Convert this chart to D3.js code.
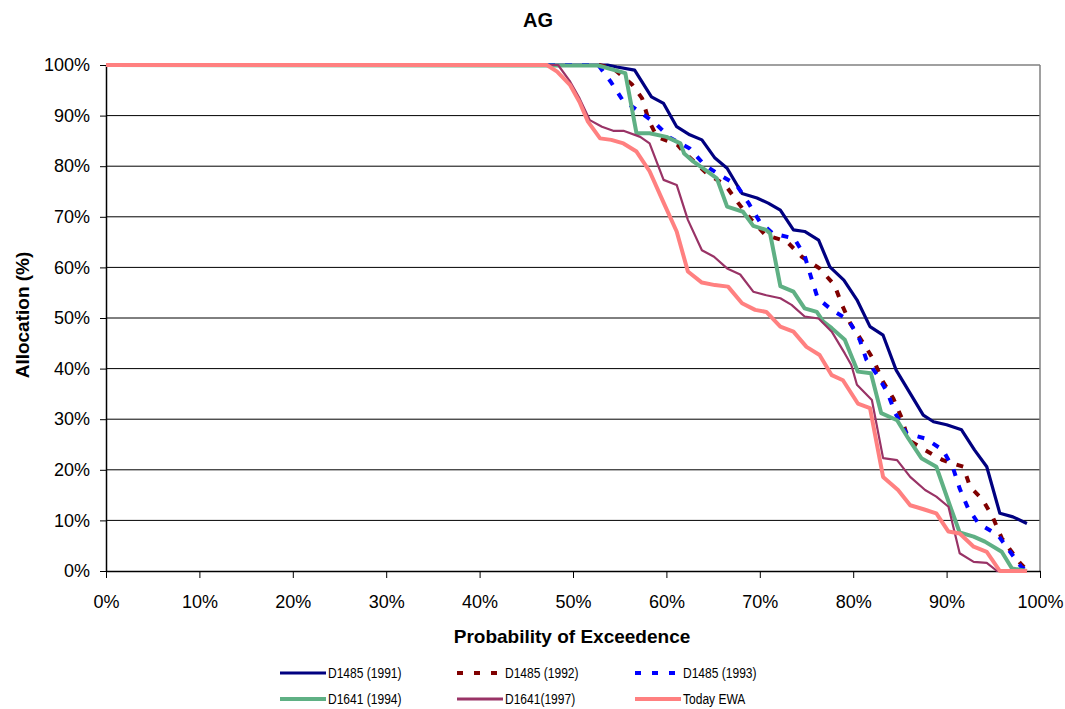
<!DOCTYPE html>
<html>
<head>
<meta charset="utf-8">
<script src="https://cdn.jsdelivr.net/npm/d3@7"></script>
<style>
  html, body { margin: 0; padding: 0; background: #fff; }
  svg { display: block; font-family: "Liberation Sans", Arial, sans-serif; }
</style>
</head>
<body>
<svg id="chart" width="1065" height="709"></svg>
<script>
// ---- data ----
const chartTitle = "AG";
const xTitle = "Probability of Exceedence";
const yTitle = "Allocation (%)";
const xTicks = [0, 10, 20, 30, 40, 50, 60, 70, 80, 90, 100];
const yTicks = [0, 10, 20, 30, 40, 50, 60, 70, 80, 90, 100];
const seriesNames = ["D1485 (1991)", "D1485 (1992)", "D1485 (1993)", "D1641 (1994)", "D1641(1997)", "Today EWA"];

const d1991Prob  = [0, 53.7, 54.7, 56.6, 58.4, 59.7, 61.1, 62.5, 63.8, 65.2, 66.5, 68.1, 69.7, 70.9, 72.2, 73.6, 74.8, 76.3, 77.5, 79.0, 80.4, 81.8, 83.2, 84.6, 86.1, 87.5, 88.6, 90.0, 91.6, 93.0, 94.3, 95.7, 97.1, 98.6];
const d1991Alloc = [100, 100, 99.6, 99.0, 93.7, 92.4, 87.8, 86.2, 85.2, 81.6, 79.6, 74.6, 73.7, 72.7, 71.3, 67.4, 67.1, 65.4, 60.1, 57.5, 53.6, 48.3, 46.6, 39.7, 35.1, 30.8, 29.5, 28.9, 27.9, 23.9, 20.6, 11.4, 10.7, 9.4];

const d1992Prob  = [0, 52.8, 54.3, 56.3, 57.4, 58.1, 59.0, 61.2, 61.8, 64.3, 66.3, 67.7, 69.1, 70.6, 72.9, 74.5, 76.4, 78.0, 78.8, 79.7, 81.1, 82.2, 83.1, 84.3, 85.2, 85.9, 87.7, 89.6, 91.8, 92.5, 93.9, 95.0, 95.9, 96.8, 97.9, 98.6];
const d1992Alloc = [100, 100, 99.3, 96.2, 93.4, 89.1, 85.8, 84.2, 82.9, 78.6, 76.3, 72.7, 69.4, 66.4, 65.1, 62.1, 59.8, 56.5, 52.6, 48.9, 45.0, 41.7, 37.7, 34.1, 30.2, 25.9, 23.9, 21.9, 20.6, 16.7, 14.0, 10.4, 6.5, 4.2, 1.5, 0.2];

const d1993Prob  = [0, 52.7, 54.0, 55.3, 57.1, 58.8, 60.4, 62.5, 64.1, 65.7, 67.5, 68.8, 70.0, 71.4, 73.7, 74.8, 75.5, 76.2, 77.7, 79.5, 80.7, 81.4, 82.7, 83.7, 84.5, 85.7, 87.7, 89.6, 90.7, 91.4, 92.3, 93.4, 95.5, 96.8, 98.0, 98.6];
const d1993Alloc = [100, 100, 96.8, 93.1, 90.8, 88.5, 85.6, 83.5, 80.2, 78.3, 76.3, 72.7, 69.0, 66.7, 65.7, 62.3, 58.0, 53.9, 51.6, 49.6, 45.7, 41.8, 38.4, 35.1, 31.2, 27.2, 26.2, 23.9, 20.3, 16.3, 12.4, 9.4, 7.1, 3.8, 0.8, 0.2];

const d1994Prob  = [0, 52.7, 55.6, 56.8, 58.2, 60.0, 61.5, 61.9, 62.9, 63.9, 65.4, 66.5, 68.2, 69.3, 70.7, 71.1, 72.2, 73.6, 74.8, 76.1, 76.8, 77.7, 79.1, 80.5, 81.9, 83.0, 84.7, 85.9, 87.3, 88.9, 90.4, 91.4, 92.9, 94.1, 95.9, 97.0, 98.6];
const d1994Alloc = [100, 99.9, 98.4, 86.5, 86.5, 85.8, 84.5, 82.5, 80.9, 79.6, 77.6, 72.0, 71.0, 68.2, 67.4, 66.7, 56.3, 55.2, 51.9, 51.2, 49.3, 48.0, 45.7, 39.4, 39.1, 31.2, 29.8, 26.2, 22.3, 20.6, 12.7, 7.6, 6.8, 5.8, 3.8, 0.5, 0];

const d1997Prob  = [0, 48.4, 49.7, 50.7, 51.8, 53.1, 54.3, 55.4, 57.2, 58.2, 59.7, 61.1, 62.3, 63.8, 65.1, 66.5, 67.9, 69.3, 70.7, 72.2, 73.4, 74.8, 76.3, 77.7, 79.1, 79.8, 80.4, 82.0, 83.2, 84.7, 86.1, 87.7, 88.9, 90.2, 91.4, 92.9, 94.3, 95.4, 98.6];
const d1997Alloc = [100, 100, 96.7, 93.4, 89.1, 87.8, 87.0, 87.0, 85.8, 84.5, 77.3, 76.3, 69.4, 63.4, 62.1, 59.8, 58.6, 55.2, 54.5, 53.9, 52.6, 50.3, 49.9, 47.3, 43.0, 40.7, 36.8, 33.8, 22.3, 21.9, 18.6, 16.0, 14.7, 12.7, 3.5, 1.8, 1.6, 0, 0];

const ewaProb  = [0, 47.2, 48.3, 49.7, 50.7, 51.6, 52.9, 54.1, 55.4, 56.8, 58.2, 59.7, 61.1, 62.3, 63.8, 65.2, 66.6, 68.1, 69.5, 70.7, 72.2, 73.6, 75.0, 76.4, 77.7, 78.9, 80.5, 81.8, 83.2, 84.8, 86.1, 87.7, 88.9, 90.2, 91.4, 92.9, 94.3, 95.7, 98.6];
const ewaAlloc = [100, 100, 98.7, 96.0, 92.7, 88.8, 85.5, 85.2, 84.5, 82.9, 79.0, 72.8, 67.1, 59.2, 57.0, 56.5, 56.2, 52.9, 51.6, 51.2, 48.3, 47.3, 44.3, 42.7, 38.7, 37.7, 33.1, 32.2, 18.6, 16.0, 13.0, 12.1, 11.4, 7.8, 7.4, 4.8, 3.8, 0, 0];

// ---- styles (kept separate from data) ----
const styles = [
  { color: "#000080", width: 3.2, dash: null },
  { color: "#800000", width: 4,   dash: "7,10" },
  { color: "#0000ff", width: 4,   dash: "7,10" },
  { color: "#5fb084", width: 4,   dash: null },
  { color: "#993366", width: 2.2, dash: null },
  { color: "#ff8080", width: 4,   dash: null }
];
const probs = [d1991Prob, d1992Prob, d1993Prob, d1994Prob, d1997Prob, ewaProb];
const allocs = [d1991Alloc, d1992Alloc, d1993Alloc, d1994Alloc, d1997Alloc, ewaAlloc];

const series = seriesNames.map((name, i) => ({
  name,
  style: styles[i],
  points: probs[i].map((p, j) => ({ p, v: allocs[i][j] }))
}));

// ---- layout ----
const svg = d3.select("#chart");
const plotL = 106, plotR = 1040, plotT = 65, plotB = 571;
const x = d3.scaleLinear().domain([0, 100]).range([plotL, plotR]);
const y = d3.scaleLinear().domain([0, 100]).range([plotB, plotT]);
const font = '"Liberation Sans", Arial, sans-serif';

// gridlines
svg.append("g").selectAll("line")
  .data(yTicks.filter(d => d > 0 && d < 100))
  .join("line")
  .attr("x1", plotL).attr("x2", plotR)
  .attr("y1", d => y(d)).attr("y2", d => y(d))
  .attr("stroke", "#000").attr("stroke-width", 1);

// plot border top/right (gray)
svg.append("line").attr("x1", plotL).attr("x2", plotR).attr("y1", y(100)).attr("y2", y(100))
  .attr("stroke", "#808080").attr("stroke-width", 1.5);
svg.append("line").attr("x1", plotR).attr("x2", plotR).attr("y1", plotT).attr("y2", plotB)
  .attr("stroke", "#808080").attr("stroke-width", 1.5);

// axes
const yAxis = d3.axisLeft(y).tickValues(yTicks).tickFormat(d => d + "%")
  .tickSize(6).tickSizeOuter(0).tickPadding(10);
const xAxis = d3.axisBottom(x).tickValues(xTicks).tickFormat(d => d + "%")
  .tickSize(7).tickSizeOuter(0).tickPadding(17);

const gy = svg.append("g").attr("transform", `translate(${plotL},0)`).call(yAxis);
const gx = svg.append("g").attr("transform", `translate(0,${plotB})`).call(xAxis);
[gx, gy].forEach(g => {
  g.selectAll("path.domain").attr("stroke", "#000").attr("stroke-width", 1.5);
  g.selectAll(".tick line").attr("stroke", "#000").attr("stroke-width", 1);
  g.selectAll(".tick text").attr("fill", "#000").attr("font-size", 18).attr("font-family", font);
});

// lines
const line = d3.line().x(d => x(d.p)).y(d => y(d.v));
svg.append("g").selectAll("path")
  .data(series)
  .join("path")
  .attr("d", d => line(d.points))
  .attr("fill", "none")
  .attr("stroke", d => d.style.color)
  .attr("stroke-width", d => d.style.width)
  .attr("stroke-dasharray", d => d.style.dash)
  .attr("stroke-linejoin", "round");

// titles
svg.append("text").attr("x", 538).attr("y", 27).attr("text-anchor", "middle")
  .attr("font-size", 20).attr("font-weight", "bold").attr("font-family", font).text(chartTitle);
svg.append("text").attr("x", 572).attr("y", 643).attr("text-anchor", "middle")
  .attr("font-size", 19).attr("font-weight", "bold").attr("font-family", font).text(xTitle);
svg.append("text").attr("transform", "translate(29,315) rotate(-90)").attr("text-anchor", "middle")
  .attr("font-size", 19).attr("font-weight", "bold").attr("font-family", font).text(yTitle);

// legend
const legX = [280, 457, 635];
const legY = [673, 699];
const leg = svg.append("g").selectAll("g")
  .data(series)
  .join("g")
  .attr("transform", (d, i) => `translate(${legX[i % 3]},${legY[Math.floor(i / 3)]})`);
leg.append("line")
  .attr("x1", 0).attr("x2", 46).attr("y1", 0).attr("y2", 0)
  .attr("stroke", d => d.style.color)
  .attr("stroke-width", d => Math.max(d.style.width, 3))
  .attr("stroke-dasharray", d => d.style.dash ? "6,11" : null);
leg.append("text")
  .attr("transform", "translate(48,0) scale(0.83,1)")
  .attr("dy", "0.35em")
  .attr("font-size", 14.5).attr("font-family", font).attr("fill", "#000")
  .text(d => d.name);
</script>
</body>
</html>
